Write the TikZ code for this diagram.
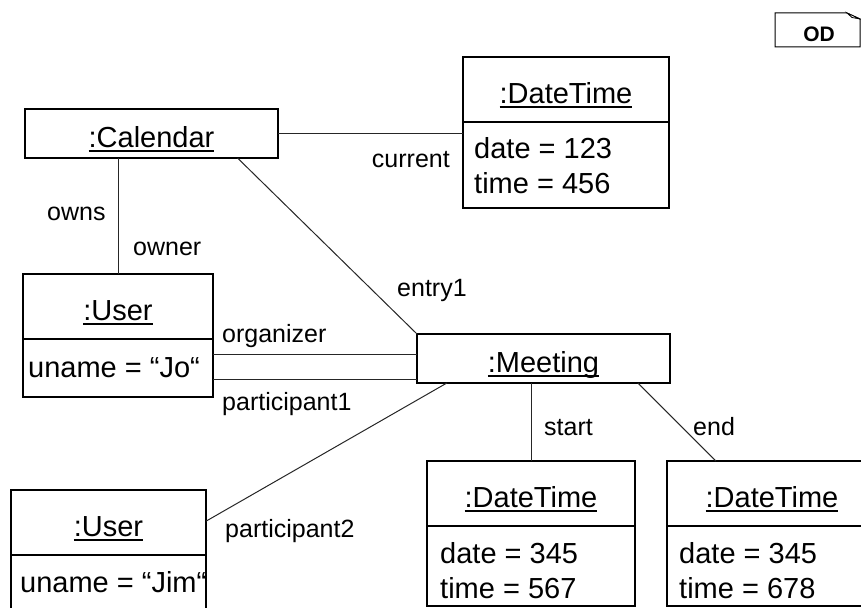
\documentclass[tikz,border=0pt]{standalone}
\usepackage{fontspec}
\setmainfont{Liberation Sans}
\usetikzlibrary{calc}
% underlined object name with a rule of fixed depth and thickness
\newcommand\objname[1]{\setbox0=\hbox{#1}\rlap{\rule[-4.6pt]{\wd0}{1.3pt}}\box0}
\begin{document}
\begin{tikzpicture}[x=1pt,y=-1pt,
  objbox/.style={draw=black,line width=1.2pt,inner sep=0pt,outer sep=0pt,
    text height=27pt,text depth=0pt,font=\fontsize{29}{35}\selectfont},
  compart/.style={draw=black,line width=1.2pt,inner sep=0pt,outer sep=0pt},
  attr/.style={inner sep=0pt,anchor=base west,font=\fontsize{29}{35}\selectfont},
  role/.style={inner sep=0pt,font=\fontsize{25}{30}\selectfont},
  link/.style={draw=black!85,line width=1pt},
]
\useasboundingbox (0,0) rectangle (861,607);
\clip (0,0) rectangle (861,607);

% ---- objects ----
\node[objbox,minimum width=253pt,minimum height=49pt] (cal) at (151.5,133.5) {\objname{:Calendar}};

\node[objbox,minimum width=206pt,minimum height=65pt] (dt0) at (566,89.5) {\objname{:DateTime}};
\node[compart,minimum width=206pt,minimum height=86pt,anchor=north west] (dt0a) at (dt0.south west) {};
\node[attr] (dt0d) at ($(dt0a.north west)+(11,36)$) {date = 123};
\node[attr] (dt0t) at ($(dt0d.base west)+(0,35)$) {time = 456};

\node[objbox,minimum width=190pt,minimum height=65pt] (u1) at (118,306.5) {\objname{:User}};
\node[compart,minimum width=190pt,minimum height=58pt,anchor=north west] (u1a) at (u1.south west) {};
\node[attr] (u1n) at ($(u1a.north west)+(5,38)$) {uname = “Jo“};

\node[objbox,minimum width=253pt,minimum height=49pt] (meet) at (543.5,358.5) {\objname{:Meeting}};

\node[objbox,minimum width=195pt,minimum height=65pt] (u2) at (108.5,522.5) {\objname{:User}};
\node[compart,minimum width=195pt,minimum height=70pt,anchor=north west] (u2a) at (u2.south west) {};
\node[attr] (u2n) at ($(u2a.north west)+(9,37)$) {uname = “Jim“};

\node[objbox,minimum width=208pt,minimum height=65pt] (dt1) at (531,493.5) {\objname{:DateTime}};
\node[compart,minimum width=208pt,minimum height=80pt,anchor=north west] (dt1a) at (dt1.south west) {};
\node[attr] (dt1d) at ($(dt1a.north west)+(13,37)$) {date = 345};
\node[attr] (dt1t) at ($(dt1d.base west)+(0,35)$) {time = 567};

\node[objbox,minimum width=210pt,minimum height=65pt] (dt2) at (772,493.5) {\objname{:DateTime}};
\node[compart,minimum width=210pt,minimum height=80pt,anchor=north west] (dt2a) at (dt2.south west) {};
\node[attr] (dt2d) at ($(dt2a.north west)+(12,37)$) {date = 345};
\node[attr] (dt2t) at ($(dt2d.base west)+(0,35)$) {time = 678};

% ---- links ----
\draw[link] (cal.east) -- (cal.east -| dt0.west);
\draw[link] (u1.north |- cal.south) -- (u1.north);
\draw[link] ($(cal.south west)!0.84!(cal.south east)$) -- (meet.north west);
\draw[link] ($(u1a.north east)!0.26!(u1a.south east)$) coordinate (org) -- (org -| meet.west);
\draw[link] ($(u1a.north east)!0.69!(u1a.south east)$) coordinate (par) -- (par -| meet.west);
\draw[link] ($(meet.south west)!0.118!(meet.south east)$) -- ($(u2.north east)!0.48!(u2.south east)$);
\draw[link] (dt1.north |- meet.south) -- (dt1.north);
\draw[link] ($(meet.south west)!0.873!(meet.south east)$) -- ($(dt2.north west)!0.233!(dt2.north east)$);

% ---- role names ----
\node[role,anchor=base east] (lcur) at (450,167) {current};
\node[role,anchor=base west] (lowns) at (47,220) {owns};
\node[role,anchor=base west] (lowner) at (133,255) {owner};
\node[role,anchor=base west] (lentry) at (397,296) {entry1};
\node[role,anchor=base west] (lorg) at (222,342) {organizer};
\node[role,anchor=base west] (lpar1) at (222,410) {participant1};
\node[role,anchor=base west] (lpar2) at (225,537) {participant2};
\node[role,anchor=base west] (lstart) at (544,435) {start};
\node[role,anchor=base west] (lend) at (693,435) {end};

% ---- diagram tag ----
\node[inner sep=0pt,anchor=base,font=\fontsize{21}{25}\selectfont\bfseries] (od) at (819,41.7) {OD};
\draw[line width=1pt] (775,13) -- (847,13) -- (860,19) -- (860,47) -- (775,47) -- cycle;
\draw[line width=0.8pt,fill=white] (847,13) -- (852,17.5) -- (860,19) -- cycle;
\end{tikzpicture}
\end{document}
